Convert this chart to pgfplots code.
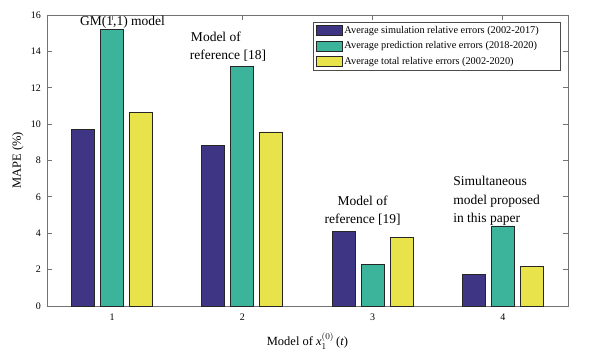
\documentclass[border=0pt]{standalone}
\usepackage{fontspec}
\setmainfont{Liberation Serif}
\usepackage{pgfplots}
\pgfplotsset{compat=1.18}
\definecolor{cA}{HTML}{3E3585}
\definecolor{cB}{HTML}{3CB49B}
\definecolor{cC}{HTML}{E9E34B}
\begin{document}
\begin{tikzpicture}
\begin{axis}[
  scale only axis, width=521pt, height=291pt,
  xmin=0.5, xmax=4.5, ymin=0, ymax=16,
  xtick={1,2,3,4}, ytick={0,2,...,16},
  ybar=6pt, bar width=23pt,
  tick align=inside, major tick length=5pt,
  axis line style={black!55, line width=0.8pt},
  tick style={black!55, line width=0.8pt},
  ticklabel style={font=\fontsize{10}{11}\selectfont},
  xticklabel style={yshift=-4pt},
  yticklabel style={xshift=-2.5pt},
  /pgf/number format/assume math mode=true,
  xlabel={Model of \textit{x}$_1^{(0)}$\,(\textit{t})},
  ylabel={MAPE (\%)},
  label style={font=\fontsize{12.5}{14}\selectfont},
  ylabel style={at={(axis description cs:-0.056,0.5)}, anchor=center},
  xlabel style={at={(axis description cs:0.5,-0.12)}, anchor=center},
  legend style={at={(rel axis cs:0.9846,0.976)}, anchor=north east,
    draw=black!70, fill=white, font=\fontsize{10.3}{12}\selectfont,
    inner xsep=2pt, inner ysep=2pt, row sep=2.8pt},
  legend cell align=left,
  legend image code/.code={\draw[#1, bar shift=0pt] (0pt,-5pt) rectangle (26pt,5pt);},
  every axis plot/.append style={draw=black!85, line width=0.8pt},
]
\addplot[fill=cA] coordinates {(1,9.73) (2,8.83) (3,4.09) (4,1.74)};
\addplot[fill=cB] coordinates {(1,15.23) (2,13.18) (3,2.29) (4,4.40)};
\addplot[fill=cC] coordinates {(1,10.65) (2,9.57) (3,3.78) (4,2.18)};
\legend{Average simulation relative errors (2002-2017)\hspace*{17pt},
        Average prediction relative errors (2018-2020),
        Average total relative errors (2002-2020)}
\begin{scope}[every node/.style={font=\fontsize{13.5}{16}\selectfont, inner sep=0pt}]
\node[anchor=base] at (axis cs:1.08,15.41) {GM(1,1) model};
\node[anchor=base west] at (axis cs:1.604,14.53) {Model of};
\node[anchor=base west] at (axis cs:1.596,13.53) {reference [18]};
\node[anchor=base] at (axis cs:2.923,5.51) {Model of};
\node[anchor=base] at (axis cs:2.923,4.55) {reference [19]};
\node[anchor=base west] at (axis cs:3.618,6.65) {Simultaneous};
\node[anchor=base west] at (axis cs:3.618,5.59) {model proposed};
\node[anchor=base west] at (axis cs:3.618,4.60) {in this paper};
\end{scope}
\end{axis}
\pgfresetboundingbox
\path ([shift={(-47pt,-56pt)}]current axis.south west) rectangle ([shift={(38pt,15pt)}]current axis.north east);
\end{tikzpicture}
\end{document}
